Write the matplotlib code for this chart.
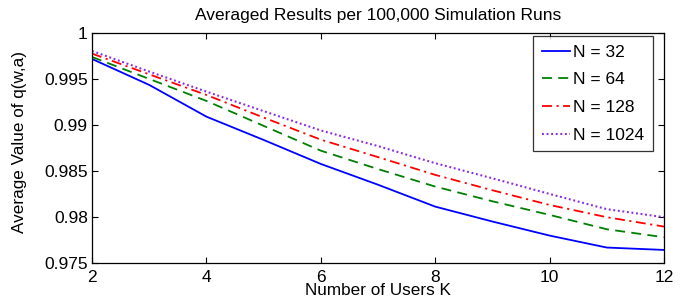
import matplotlib
matplotlib.use("Agg")
import matplotlib.pyplot as plt

plt.rcParams['font.family'] = ['Liberation Sans', 'DejaVu Sans']

K = [2, 3, 4, 5, 6, 7, 8, 9, 10, 11, 12]
q_n32 = [0.99717, 0.99435, 0.9909, 0.98837, 0.98576, 0.9835, 0.98112, 0.9795, 0.97797, 0.97667, 0.97641]
q_n64 = [0.99739, 0.9950, 0.99261, 0.9899, 0.9872, 0.9852, 0.98330, 0.9817, 0.98022, 0.97866, 0.97779]
q_n128 = [0.99775, 0.9955, 0.99326, 0.9908, 0.9884, 0.9865, 0.98457, 0.9829, 0.98130, 0.97997, 0.97895]
q_n1024 = [0.99804, 0.9958, 0.99362, 0.9915, 0.9894, 0.9877, 0.98584, 0.9842, 0.98250, 0.98084, 0.97997]
labels = ['N = 32', 'N = 64', 'N = 128', 'N = 1024']

fig = plt.figure(figsize=(6.92, 3.05), dpi=100)
ax = fig.add_axes([0.133, 0.138, 0.8265, 0.754])

ax.plot(K, q_n32, color='#0000ff', linestyle='-', lw=1.3, label=labels[0])
ax.plot(K, q_n64, color='#008000', linestyle=(0, (5.5, 3.5)), lw=1.3, label=labels[1])
ax.plot(K, q_n128, color='#ff0000', linestyle=(0, (5.5, 2.5, 1.2, 2.5)), lw=1.3, label=labels[2])
ax.plot(K, q_n1024, color='#8b2be2', linestyle=(0, (0.9, 1.3)), lw=1.5, label=labels[3])

ax.set_xlim(2, 12)
ax.set_ylim(0.975, 1.0)
ax.set_xticks([2, 4, 6, 8, 10, 12])
ax.set_yticks([0.975, 0.98, 0.985, 0.99, 0.995, 1.0])
ax.set_yticklabels(['0.975', '0.98', '0.985', '0.99', '0.995', '1'])
ax.tick_params(direction='in', top=True, right=True, labelsize=12.5, length=4.3, width=0.8, pad=3)
ax.tick_params(axis='x', pad=5)
for s in ax.spines.values():
    s.set_linewidth(0.9)

ax.set_title('Averaged Results per 100,000 Simulation Runs', fontsize=12.5, pad=9)
ax.set_xlabel('Number of Users K', fontsize=12.3, labelpad=-1)
ax.set_ylabel('Average Value of q(w,a)', fontsize=12.3, labelpad=12)
ax.yaxis.label.set_y(0.527)

leg = ax.legend(loc='upper right', bbox_to_anchor=(0.981, 0.987), fontsize=12.5, frameon=True,
                fancybox=False, edgecolor='black', handlelength=1.65, handletextpad=0.17,
                borderpad=0.5, labelspacing=0.72, borderaxespad=0)
leg.get_frame().set_linewidth(0.9)

fig.savefig('out.png', dpi=100)
